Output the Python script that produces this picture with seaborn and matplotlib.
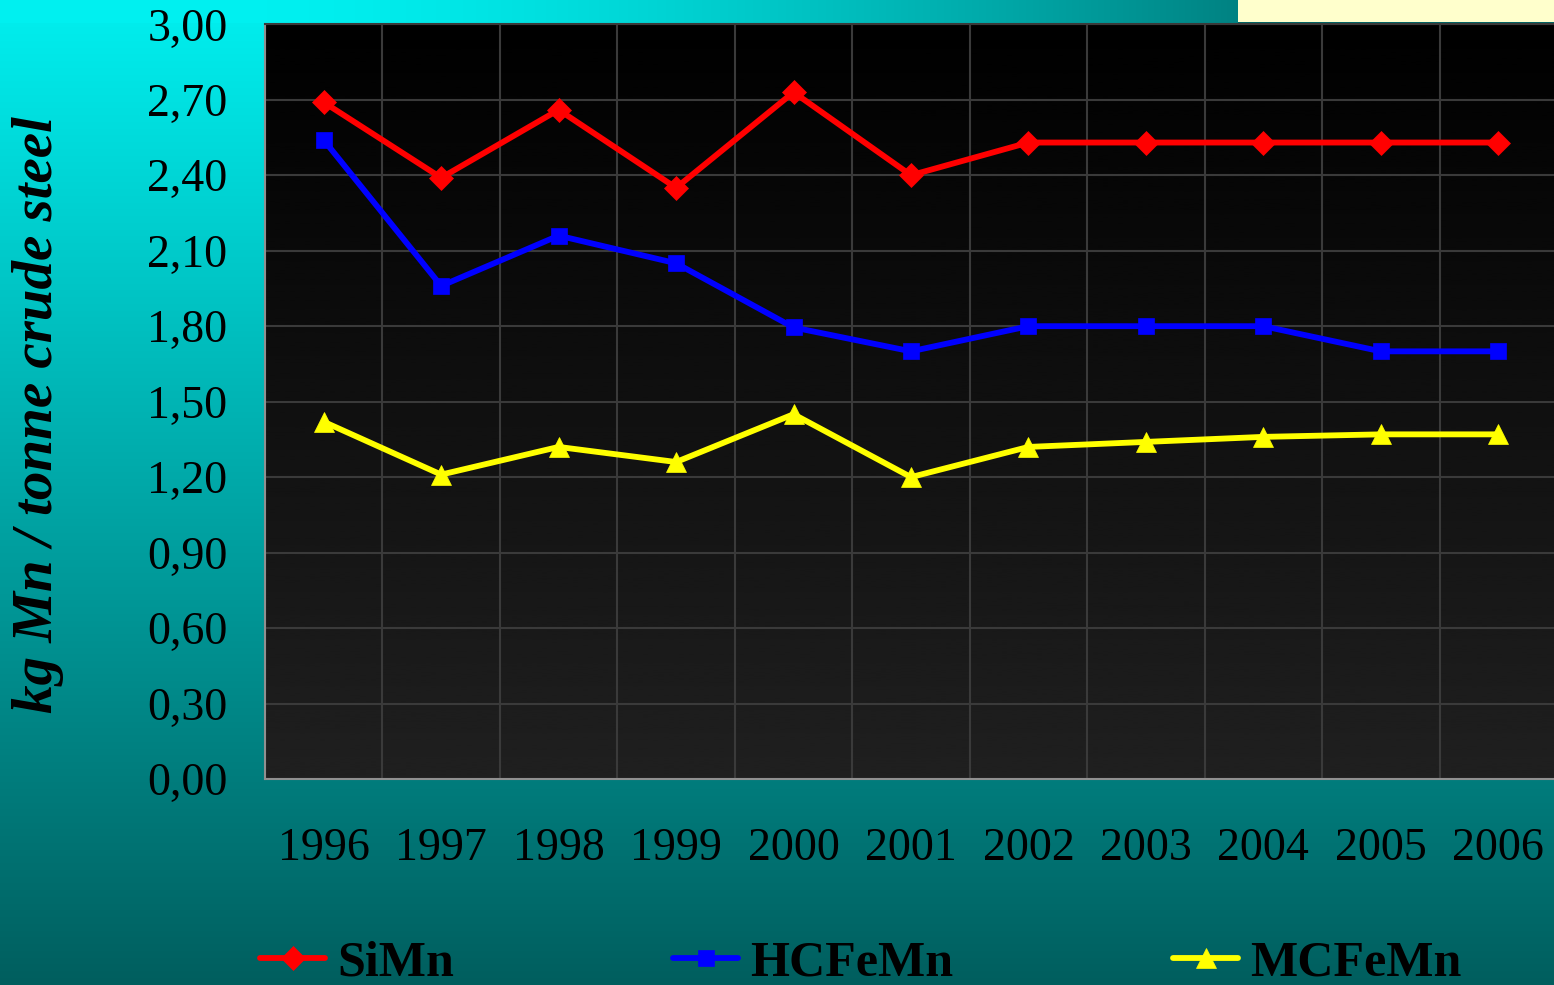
import numpy as np
import pandas as pd
import matplotlib
matplotlib.use("Agg")
import matplotlib.pyplot as plt
import seaborn as sns
from matplotlib.ticker import FixedLocator, FixedFormatter, NullFormatter

# data
years = ["1996", "1997", "1998", "1999", "2000", "2001", "2002", "2003", "2004", "2005", "2006"]
simn = [2.69, 2.39, 2.66, 2.35, 2.73, 2.40, 2.53, 2.53, 2.53, 2.53, 2.53]
hcfemn = [2.54, 1.96, 2.16, 2.05, 1.795, 1.70, 1.80, 1.80, 1.80, 1.70, 1.70]
mcfemn = [1.42, 1.21, 1.32, 1.26, 1.45, 1.20, 1.32, 1.34, 1.36, 1.37, 1.37]
series_names = ["SiMn", "HCFeMn", "MCFeMn"]
y_ticks = [0.0, 0.3, 0.6, 0.9, 1.2, 1.5, 1.8, 2.1, 2.4, 2.7, 3.0]
y_label = "kg Mn / tonne crude steel"

rows = []
for name, vals in zip(series_names, [simn, hcfemn, mcfemn]):
    for i, v in enumerate(vals):
        rows.append({"pos": i, "value": v, "series": name})
df = pd.DataFrame(rows)

sns.set_theme(style="white")
plt.rcParams["font.family"] = ["Liberation Serif", "DejaVu Serif"]
plt.rcParams["text.color"] = "black"

W, H = 1554, 985
fig = plt.figure(figsize=(W / 100, H / 100), dpi=100)

# background: vertical teal gradient plus the top band
t = np.linspace(0, 1, H)[:, None, None]
top_c = np.array([0, 240, 240]) / 255
bot_c = np.array([0, 94, 94]) / 255
bg = np.broadcast_to(top_c + (bot_c - top_c) * t, (H, W, 3)).copy()
start, split = 266, 1238
s = np.clip((np.arange(split) - start) / (split - start), 0, 1)[None, :, None] ** 1.5
bg[:23, :split] = top_c + (np.array([0, 130, 130]) / 255 - top_c) * s
bg[:22, split:] = np.array([255, 255, 204]) / 255
bg[22:24, split:] = np.array([0, 100, 100]) / 255
bg_ax = fig.add_axes([0, 0, 1, 1])
bg_ax.imshow(bg, aspect="auto", extent=(0, 1, 0, 1))
bg_ax.axis("off")
bg_ax.set_zorder(-1)

ax = fig.add_axes([265 / W, 1 - 779 / H, 1292 / W, 754.7 / H])
ax.set_zorder(1)
n = len(years)
ax.imshow(np.linspace(0, 0.125, 256)[:, None], cmap="gray", vmin=0, vmax=1,
          aspect="auto", extent=(-0.5, n - 0.5, 0, 3), origin="upper", zorder=0)

styles = {
    "SiMn": dict(color="#ff0000", marker="D", markersize=12),
    "HCFeMn": dict(color="#0000ff", marker="s", markersize=11.5),
    "MCFeMn": dict(color="#ffff00", marker="^", markersize=14),
}
for name in series_names:
    st = styles[name]
    sns.lineplot(data=df[df["series"] == name], x="pos", y="value", ax=ax,
                 color=st["color"], marker=st["marker"], markersize=st["markersize"],
                 markeredgecolor=st["color"], markeredgewidth=0.5,
                 linewidth=4.2, errorbar=None, legend=False, zorder=3)

ax.set_xlim(-0.5, n - 0.5)
ax.set_ylim(0, 3)
ax.set_xlabel("")
ax.set_ylabel("")

# x: ticks at category boundaries, labels at centres
ax.xaxis.set_major_locator(FixedLocator(np.arange(n + 1) - 0.5))
ax.xaxis.set_major_formatter(NullFormatter())
ax.xaxis.set_minor_locator(FixedLocator(np.arange(n)))
ax.xaxis.set_minor_formatter(FixedFormatter(years))
ax.tick_params(axis="x", which="major", length=11, width=1.5, color="#909090", direction="out")
ax.tick_params(axis="x", which="minor", length=0, pad=35, labelsize=33, labelcolor="black")

ax.yaxis.set_major_locator(FixedLocator(y_ticks))
ax.yaxis.set_major_formatter(FixedFormatter([f"{v:.2f}".replace(".", ",") for v in y_ticks]))
ax.tick_params(axis="y", length=11, width=1.5, color="#909090", direction="out",
               pad=16, labelsize=33, labelcolor="black")

ax.grid(True, which="major", color="#3a3a3a", linewidth=1.5)
ax.set_axisbelow(True)
for side in ["left", "bottom"]:
    ax.spines[side].set_color("#909090")
    ax.spines[side].set_linewidth(1.5)
ax.spines["top"].set_color("#3a3a3a")
ax.spines["top"].set_linewidth(1.5)
ax.spines["right"].set_visible(False)

fig.text(38 / W, 1 - 415 / H, y_label, rotation=90, ha="center", va="center",
         fontsize=41, fontweight="bold", fontstyle="italic", color="black")

# legend entries placed individually along the bottom
legend_x = [260, 673, 1173]
for line, name, lx in zip(ax.lines, series_names, legend_x):
    fig.legend(handles=[line], labels=[name], loc="center left",
               bbox_to_anchor=(lx / W, 1 - 963 / H), frameon=False,
               prop=dict(weight="bold", size=36), labelcolor="black",
               handlelength=1.3, handletextpad=0.25, borderpad=0, borderaxespad=0)

fig.savefig("out.png", dpi=100)
